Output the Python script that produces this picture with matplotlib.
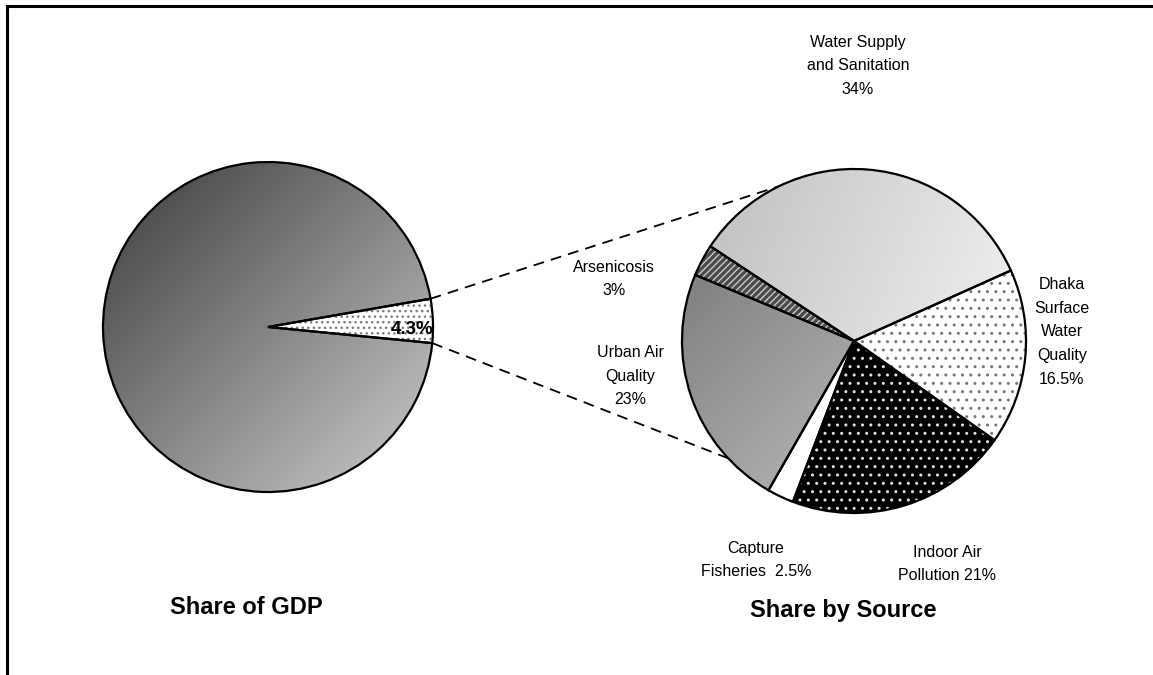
import numpy as np
import matplotlib
matplotlib.use("Agg")
import matplotlib.pyplot as plt
from matplotlib.colors import LinearSegmentedColormap

plt.rcParams['font.family'] = ['Liberation Sans', 'DejaVu Sans']

# ---- data ----
gdp_labels = ["Environmental damage", "Other"]
gdp_values = [4.3, 95.7]
gdp_slice_label = "4.3%"

source_labels = ["Water Supply\nand Sanitation\n34%",
                 "Dhaka\nSurface\nWater\nQuality\n16.5%",
                 "Indoor Air\nPollution 21%",
                 "Capture\nFisheries  2.5%",
                 "Urban Air\nQuality\n23%",
                 "Arsenicosis\n3%"]
source_values = [34, 16.5, 21, 2.5, 23, 3]

titles = ["Share of GDP", "Share by Source"]

W, H = 1153, 675
fig = plt.figure(figsize=(W / 100, H / 100), dpi=100)
ax = fig.add_axes([0, 0, 1, 1])

def py(y):
    return H - y

# geometry (pixel-like coordinates, y up)
lc, lr = (268, py(327)), 165
rc, rr = (854, py(341)), 172

def gradient(ax, wedge, center, r, c0, c1, direction=(1, -1)):
    cmap = LinearSegmentedColormap.from_list("g", [c0, c1])
    n = 300
    xs = np.linspace(-1, 1, n)
    X, Y = np.meshgrid(xs, xs)
    dx, dy = direction
    T = (X * dx + Y * dy)
    T = (T - T.min()) / (T.max() - T.min())
    im = ax.imshow(T, cmap=cmap, origin='lower', interpolation='bilinear',
                   extent=[center[0] - r, center[0] + r, center[1] - r, center[1] + r],
                   zorder=1.5, aspect='auto')
    im.set_clip_path(wedge)
    wedge.set_facecolor('none')

# ---- left pie ----
lw_fill, _ = ax.pie(gdp_values, center=lc, radius=lr, startangle=-5.6,
                    wedgeprops=dict(linewidth=0), frame=True)
lw_out, _ = ax.pie(gdp_values, center=lc, radius=lr, startangle=-5.6,
                   wedgeprops=dict(linewidth=1.6, edgecolor='black',
                                   facecolor='none', zorder=3), frame=True)

small, big = lw_fill
small.set_facecolor('white')
small.set_hatch('...')
small.set_edgecolor('#7a7a7a')
gradient(ax, big, lc, lr, '#3c3c3c', '#cdcdcd')

ax.text(412, py(330), gdp_slice_label, ha='center', va='center',
        fontsize=13.5, fontweight='bold', zorder=5)

# ---- right pie ----
rw_fill, _ = ax.pie(source_values, center=rc, radius=rr, startangle=146.6,
                    counterclock=False, wedgeprops=dict(linewidth=0), frame=True)
rw_out, _ = ax.pie(source_values, center=rc, radius=rr, startangle=146.6,
                   counterclock=False,
                   wedgeprops=dict(linewidth=1.6, edgecolor='black',
                                   facecolor='none', zorder=3), frame=True)

water, dhaka, indoor, capture, urban, arsen = rw_fill
gradient(ax, water, rc, rr, '#bcbcbc', '#fbfbfb', direction=(1, -0.4))
dhaka.set_facecolor('white'); dhaka.set_hatch('..'); dhaka.set_edgecolor('#787878')
indoor.set_facecolor('black'); indoor.set_hatch('..'); indoor.set_edgecolor('#e0e0e0')
capture.set_facecolor('white')
gradient(ax, urban, rc, rr, '#707070', '#d4d4d4', direction=(1, -1))
arsen.set_facecolor('#4a4a4a'); arsen.set_hatch('/////'); arsen.set_edgecolor('#c8c8c8')

label_pos = [(858, 66), (1062, 332), (947, 564), (756, 560), (630, 376), (614, 279)]
for txt, (x, y) in zip(source_labels, label_pos):
    ax.text(x, py(y), txt, ha='center', va='center', fontsize=11.5,
            linespacing=1.72, zorder=5)

# ---- connector lines ----
small_out = lw_out[0]
for ang_left, ang_right in [(small_out.theta2, 116), (small_out.theta1, 223)]:
    x0 = lc[0] + lr * np.cos(np.radians(ang_left))
    y0 = lc[1] + lr * np.sin(np.radians(ang_left))
    x1 = rc[0] + rr * np.cos(np.radians(ang_right))
    y1 = rc[1] + rr * np.sin(np.radians(ang_right))
    ax.plot([x0, x1], [y0, y1], color='black', lw=1.3, ls=(0, (6, 4)), zorder=4)

# ---- titles ----
ax.text(246, py(607), titles[0], ha='center', va='center', fontsize=17,
        fontweight='bold')
ax.text(843, py(610), titles[1], ha='center', va='center', fontsize=17,
        fontweight='bold')

# ---- border (left and top) ----
ax.plot([7, 7, W], [0, py(6), py(6)], color='black', lw=2.2, clip_on=False,
        solid_joinstyle='miter')

ax.set_xlim(0, W)
ax.set_ylim(0, H)
ax.set_aspect('auto')
ax.axis('off')
fig.savefig("out.png", dpi=100, facecolor='white')
